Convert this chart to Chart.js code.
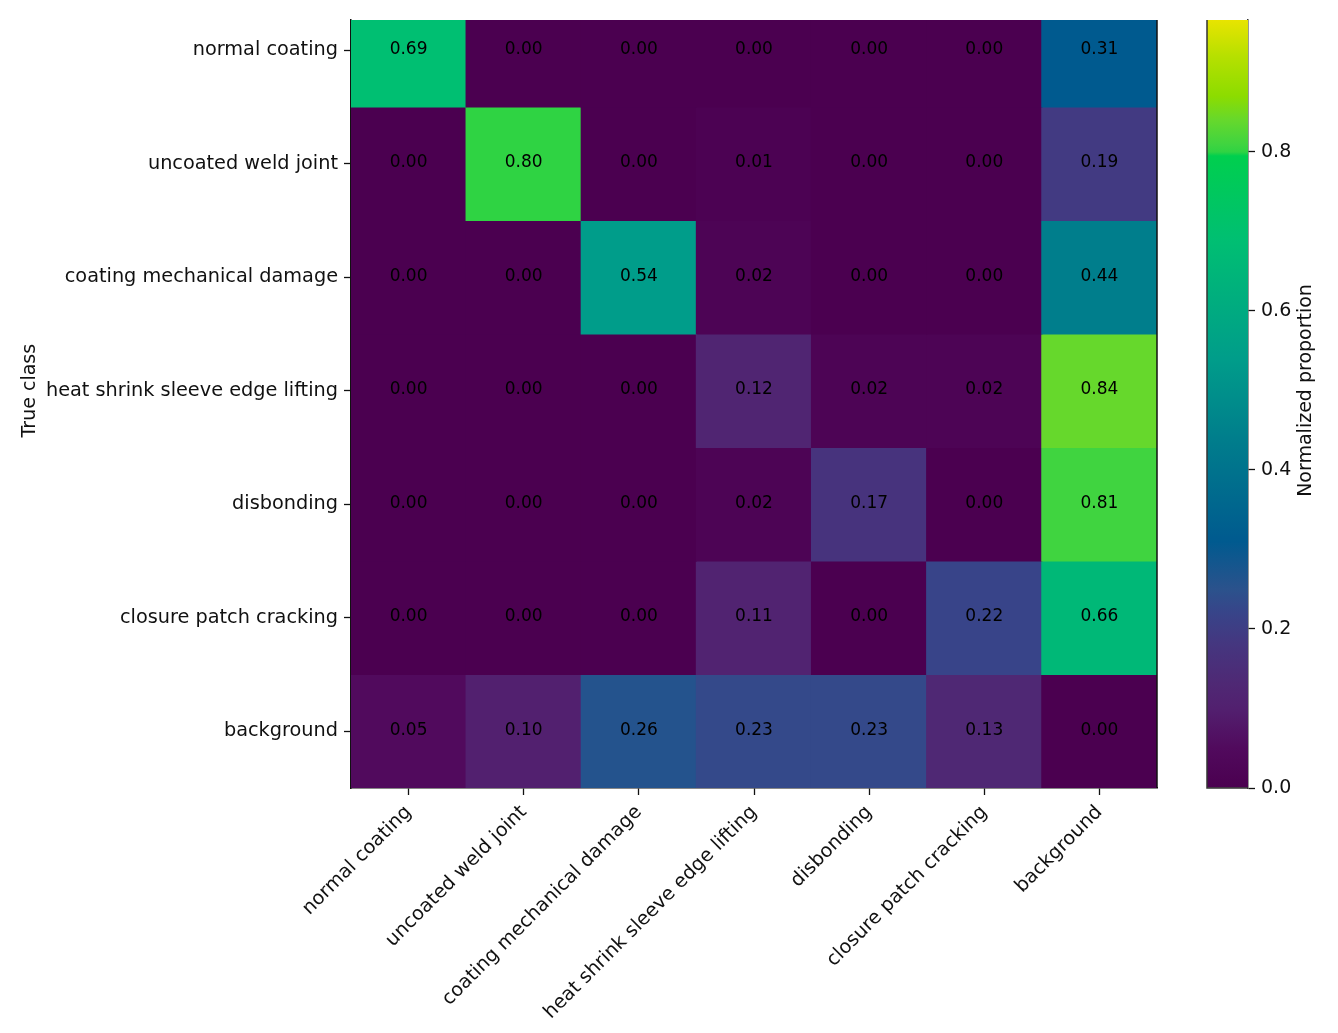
<!DOCTYPE html>
<html>
<head>
<meta charset="utf-8">
<script src="https://cdn.jsdelivr.net/npm/chart.js@4.4.1/dist/chart.umd.min.js"></script>
<style>
  html, body { margin: 0; padding: 0; background: #fff; }
  #wrap { position: relative; width: 1338px; height: 1033px; }
  #wrap canvas { position: absolute; left: 0; top: 0; }
</style>
</head>
<body>
<div id="wrap">
  <canvas id="matrixChart" width="1338" height="1033"></canvas>
  <canvas id="cbarChart" width="1338" height="1033"></canvas>
</div>
<script>
// class names, same order for rows (true) and columns (predicted)
const classes = ['normal coating', 'uncoated weld joint', 'coating mechanical damage',
  'heat shrink sleeve edge lifting', 'disbonding', 'closure patch cracking', 'background'];

// one row per true class
const normalCoating   = [0.69, 0.00, 0.00, 0.00, 0.00, 0.00, 0.31];
const uncoatedWeld    = [0.00, 0.80, 0.00, 0.01, 0.00, 0.00, 0.19];
const mechDamage      = [0.00, 0.00, 0.54, 0.02, 0.00, 0.00, 0.44];
const sleeveLifting   = [0.00, 0.00, 0.00, 0.12, 0.02, 0.02, 0.84];
const disbonding      = [0.00, 0.00, 0.00, 0.02, 0.17, 0.00, 0.81];
const patchCracking   = [0.00, 0.00, 0.00, 0.11, 0.00, 0.22, 0.66];
const backgroundRow   = [0.05, 0.10, 0.26, 0.23, 0.23, 0.13, 0.00];
const matrix = [normalCoating, uncoatedWeld, mechDamage, sleeveLifting, disbonding, patchCracking, backgroundRow];

const cbarTicks = [0.0, 0.2, 0.4, 0.6, 0.8];

const FONT = 'DejaVu Sans';
const INK = '#111';
const rowTop = 0.235;   // top of the figure is cropped, first row is partly cut
const cbarMax = 0.966;  // same crop on the colour bar

// viridis-like map, a bit more saturated as in the picture
const cmapStops = [
  [0.00, '#4b0050'], [0.05, '#510a5d'], [0.10, '#52206f'], [0.13, '#4f2874'],
  [0.18, '#45367f'], [0.22, '#384489'], [0.25, '#2b528c'], [0.31, '#005a8f'],
  [0.44, '#007e8c'], [0.54, '#009d8a'], [0.66, '#00b877'], [0.69, '#00bf72'],
  [0.795, '#00cf4e'], [0.80, '#2fd343'], [0.81, '#40d440'], [0.84, '#66d82c'],
  [0.87, '#8cdc00'], [0.92, '#b6e000'], [0.966, '#e8e400'], [1.00, '#f5e600']
];

function hexRgb(h) {
  return [1, 3, 5].map(i => parseInt(h.slice(i, i + 2), 16));
}

function cmap(v) {
  for (let i = 1; i < cmapStops.length; i++) {
    const [v1, c1] = cmapStops[i];
    if (v <= v1) {
      const [v0, c0] = cmapStops[i - 1];
      const t = (v - v0) / (v1 - v0);
      const a = hexRgb(c0), b = hexRgb(c1);
      return 'rgb(' + a.map((x, k) => Math.round(x + (b[k] - x) * t)).join(',') + ')';
    }
  }
  return cmapStops[cmapStops.length - 1][1];
}

const cellText = {
  id: 'cellText',
  afterDatasetsDraw(chart) {
    const ctx = chart.ctx;
    ctx.save();
    ctx.font = '17px "' + FONT + '"';
    ctx.fillStyle = '#000';
    ctx.textAlign = 'center';
    ctx.textBaseline = 'middle';
    matrix.forEach((row, r) => {
      chart.getDatasetMeta(r).data.forEach((bar, c) => {
        ctx.fillText(row[c].toFixed(2), bar.x, (bar.y + bar.base) / 2 - 1);
      });
    });
    ctx.restore();
  }
};

const matrixFrame = {
  id: 'matrixFrame',
  afterDraw(chart) {
    const {ctx, chartArea: a} = chart;
    const y = chart.scales.y;
    ctx.save();
    ctx.strokeStyle = INK;
    ctx.lineWidth = 1.5;
    ctx.beginPath();
    ctx.moveTo(a.right, a.top);
    ctx.lineTo(a.right, a.bottom);
    ctx.stroke();
    // y axis title, centred on the full row range
    ctx.translate(30, y.getPixelForValue(classes.length / 2));
    ctx.rotate(-Math.PI / 2);
    ctx.font = '19px "' + FONT + '"';
    ctx.fillStyle = INK;
    ctx.textAlign = 'center';
    ctx.textBaseline = 'middle';
    ctx.fillText('True class', 0, 0);
    ctx.restore();
  }
};

new Chart(document.getElementById('matrixChart'), {
  type: 'bar',
  data: {
    labels: classes,
    datasets: matrix.map((row, r) => ({
      label: classes[r],
      data: row.map(() => [r, r + 1]),
      backgroundColor: row.map(v => cmap(v)),
      borderWidth: 0,
      inflateAmount: 0.6,
      grouped: false,
      barPercentage: 1,
      categoryPercentage: 1
    }))
  },
  options: {
    responsive: false,
    animation: false,
    layout: { padding: { left: 0, top: 20, right: 181, bottom: 0 } },
    plugins: { legend: { display: false }, tooltip: { enabled: false } },
    scales: {
      x: {
        grid: { offset: false, drawOnChartArea: false, tickLength: 7, color: INK, tickWidth: 1.3 },
        border: { display: true, color: INK, width: 1.5 },
        ticks: {
          autoSkip: false, minRotation: 45, maxRotation: 45, padding: 6,
          color: INK, font: { family: FONT, size: 19.3 }
        },
        afterFit: s => { s.height = 245; }
      },
      y: {
        min: rowTop,
        max: classes.length,
        reverse: true,
        afterBuildTicks: s => { s.ticks = classes.map((c, i) => ({ value: i + 0.5 })); },
        grid: { drawOnChartArea: false, tickLength: 7, color: INK, tickWidth: 1.3 },
        border: { display: true, color: INK, width: 1.5 },
        ticks: {
          padding: 6, color: INK, font: { family: FONT, size: 19.3 },
          callback: (v, i) => classes[i]
        },
        afterFit: s => { s.width = 351; }
      }
    }
  },
  plugins: [cellText, matrixFrame]
});

function cbarGradient(chart) {
  const a = chart.chartArea;
  if (!a) return cmap(0);
  const g = chart.ctx.createLinearGradient(0, a.bottom, 0, a.top);
  cmapStops.forEach(([v]) => {
    if (v <= cbarMax) g.addColorStop(v / cbarMax, cmap(v));
  });
  return g;
}

const cbarFrame = {
  id: 'cbarFrame',
  afterDraw(chart) {
    const {ctx, chartArea: a} = chart;
    const y = chart.scales.y;
    ctx.save();
    ctx.strokeStyle = '#333';
    ctx.lineWidth = 1.5;
    ctx.beginPath();
    ctx.moveTo(a.left, a.top);
    ctx.lineTo(a.left, a.bottom);
    ctx.lineTo(a.right, a.bottom);
    ctx.stroke();
    ctx.translate(1306, y.getPixelForValue(0.5));
    ctx.rotate(-Math.PI / 2);
    ctx.font = '19px "' + FONT + '"';
    ctx.fillStyle = INK;
    ctx.textAlign = 'center';
    ctx.textBaseline = 'middle';
    ctx.fillText('Normalized proportion', 0, 0);
    ctx.restore();
  }
};

new Chart(document.getElementById('cbarChart'), {
  type: 'bar',
  data: {
    labels: [''],
    datasets: [{
      data: [cbarMax],
      backgroundColor: c => cbarGradient(c.chart),
      borderWidth: 0,
      barPercentage: 1,
      categoryPercentage: 1
    }]
  },
  options: {
    responsive: false,
    animation: false,
    layout: { padding: { left: 1207, top: 20, right: 0, bottom: 245 } },
    plugins: { legend: { display: false }, tooltip: { enabled: false } },
    scales: {
      x: { display: false },
      y: {
        position: 'right',
        min: 0,
        max: cbarMax,
        afterBuildTicks: s => { s.ticks = cbarTicks.map(v => ({ value: v })); },
        grid: { drawOnChartArea: false, tickLength: 7, color: INK, tickWidth: 1.3 },
        border: { display: true, color: '#333', width: 1.5 },
        ticks: {
          padding: 6, color: INK, font: { family: FONT, size: 19 },
          callback: v => v.toFixed(1)
        },
        afterFit: s => { s.width = 90; }
      }
    }
  },
  plugins: [cbarFrame]
});
</script>
</body>
</html>
